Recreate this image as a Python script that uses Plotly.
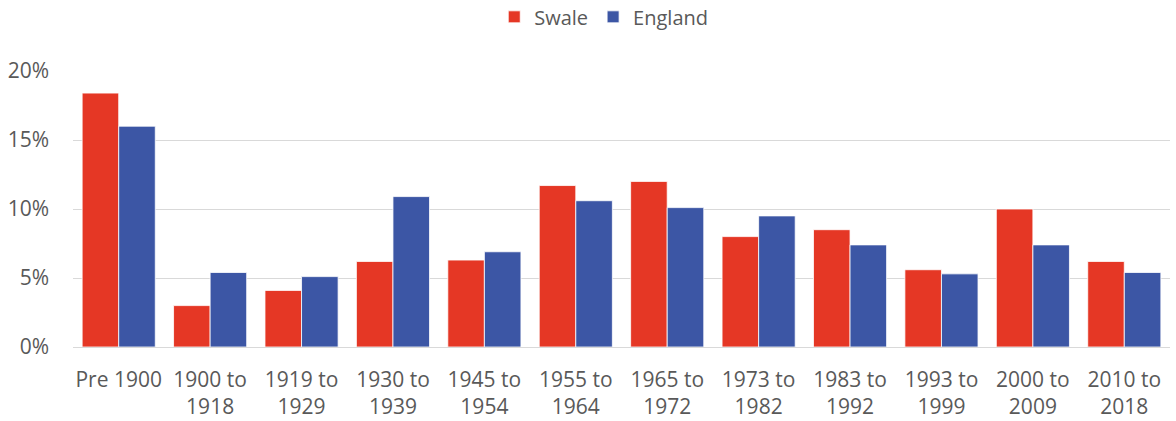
import plotly.graph_objects as go

categories = ["Pre 1900", "1900 to<br>1918", "1919 to<br>1929", "1930 to<br>1939", "1945 to<br>1954",
              "1955 to<br>1964", "1965 to<br>1972", "1973 to<br>1982", "1983 to<br>1992",
              "1993 to<br>1999", "2000 to<br>2009", "2010 to<br>2018"]
swale = [18.4, 3.0, 4.1, 6.2, 6.3, 11.7, 12.0, 8.0, 8.5, 5.6, 10.0, 6.2]
england = [16.0, 5.4, 5.1, 10.9, 6.9, 10.6, 10.1, 9.5, 7.4, 5.3, 7.4, 5.4]

font = "Open Sans"
fs = 21
fig = go.Figure()
fig.add_trace(go.Bar(name="Swale", x=categories, y=swale, marker_color="#E53725",
                     marker_line=dict(color="white", width=0.8)))
fig.add_trace(go.Bar(name="England", x=categories, y=england, marker_color="#3C56A5",
                     marker_line=dict(color="white", width=0.8)))
fig.update_layout(
    width=1176, height=421,
    margin=dict(l=73, r=6, t=71, b=74, autoexpand=False),
    barmode="group", bargap=0.2, bargroupgap=0,
    plot_bgcolor="white", paper_bgcolor="white",
    font=dict(family=font, size=fs, color="#595959"),
    legend=dict(orientation="h", x=0.384, xanchor="left", y=0.96, yanchor="middle",
                yref="container", font=dict(size=20, color="#595959"),
                itemwidth=30, traceorder="normal", bgcolor="rgba(0,0,0,0)"),
    yaxis=dict(range=[0, 20], dtick=5, ticksuffix="%", showgrid=True, automargin=False,
               gridcolor="#d9d9d9", gridwidth=1.3, zeroline=True, zerolinecolor="#d9d9d9",
               zerolinewidth=1.3, ticks="", ticklabelstandoff=23,
               tickfont=dict(size=fs, color="#595959")),
    xaxis=dict(showline=False, ticks="", automargin=False,
               tickfont=dict(size=fs, color="#595959"), ticklabelstandoff=18),
)
fig.write_html("out.html", config={"displayModeBar": False},
               post_script="document.body.style.margin='0';")
